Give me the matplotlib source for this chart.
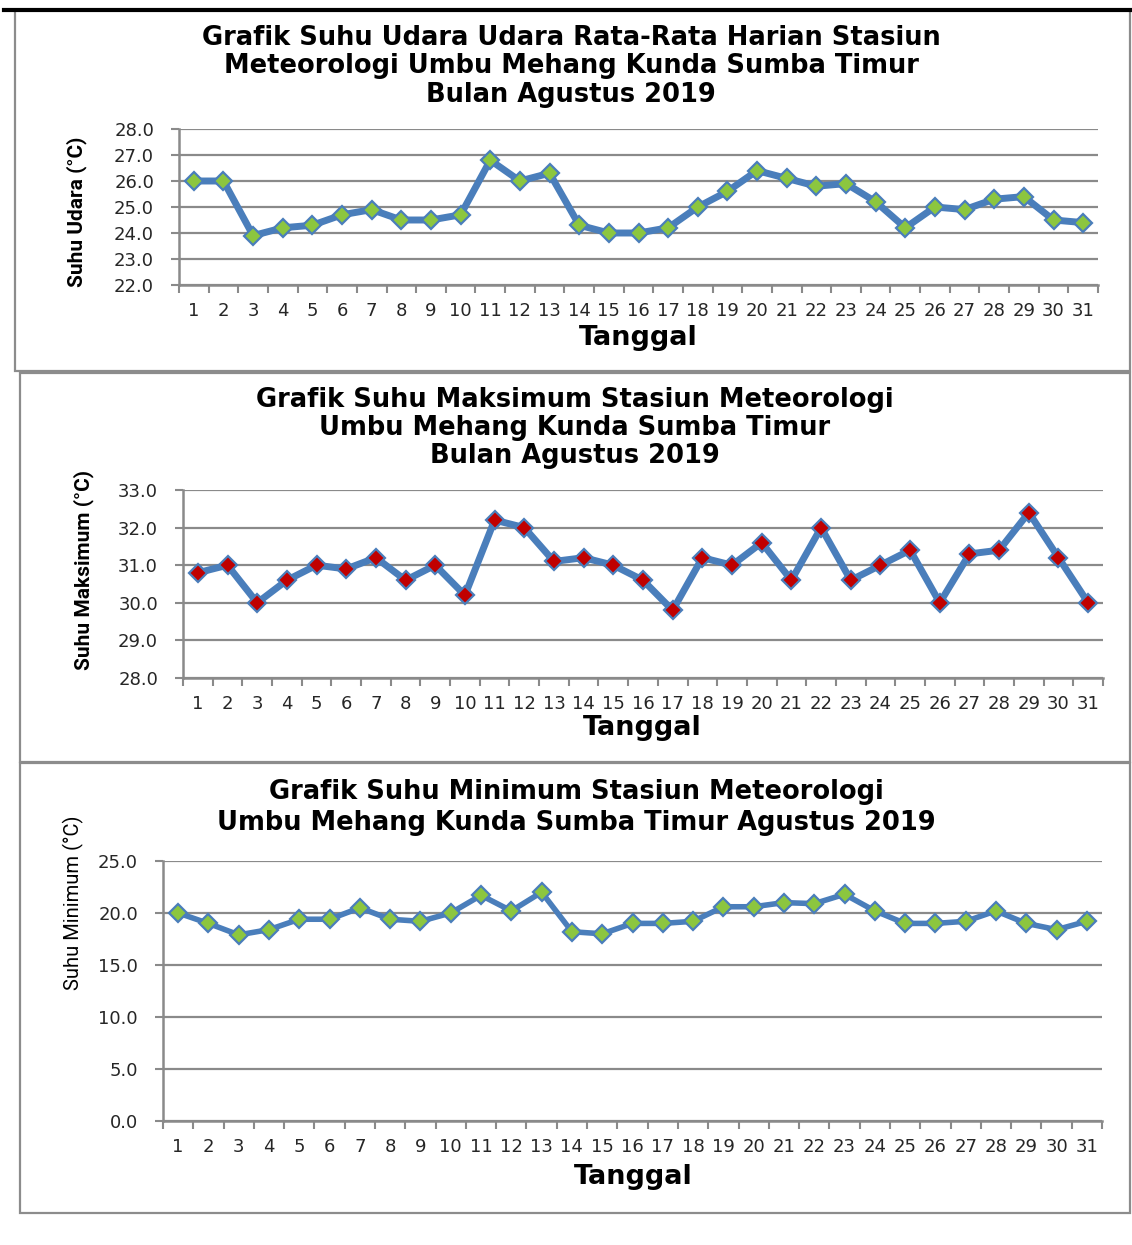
import matplotlib
matplotlib.use("Agg")
import matplotlib.pyplot as plt
from matplotlib.patches import Rectangle
from matplotlib.lines import Line2D

# ---------------- data ----------------
days = list(range(1, 32))
day_labels = [str(d) for d in days]

suhu_rata = [26.0, 26.0, 23.9, 24.2, 24.3, 24.7, 24.9, 24.5, 24.5, 24.7,
             26.8, 26.0, 26.3, 24.3, 24.0, 24.0, 24.2, 25.0, 25.6, 26.4,
             26.1, 25.8, 25.9, 25.2, 24.2, 25.0, 24.9, 25.3, 25.4, 24.5, 24.4]
suhu_max = [30.8, 31.0, 30.0, 30.6, 31.0, 30.9, 31.2, 30.6, 31.0, 30.2,
            32.2, 32.0, 31.1, 31.2, 31.0, 30.6, 29.8, 31.2, 31.0, 31.6,
            30.6, 32.0, 30.6, 31.0, 31.4, 30.0, 31.3, 31.4, 32.4, 31.2, 30.0]
suhu_min = [20.0, 19.0, 17.9, 18.4, 19.4, 19.4, 20.5, 19.4, 19.2, 20.0,
            21.7, 20.2, 22.0, 18.2, 18.0, 19.0, 19.0, 19.2, 20.6, 20.6,
            21.0, 20.9, 21.8, 20.2, 19.0, 19.0, 19.2, 20.2, 19.0, 18.4, 19.2]

title1 = ["Grafik Suhu Udara Udara Rata-Rata Harian Stasiun",
          "Meteorologi Umbu Mehang Kunda Sumba Timur",
          "Bulan Agustus 2019"]
title2 = ["Grafik Suhu Maksimum Stasiun Meteorologi",
          "Umbu Mehang Kunda Sumba Timur",
          "Bulan Agustus 2019"]
title3 = ["Grafik Suhu Minimum Stasiun Meteorologi",
          "Umbu Mehang Kunda Sumba Timur Agustus 2019"]
ylab1 = "Suhu Udara (°C)"
ylab2 = "Suhu Maksimum (°C)"
ylab3 = "Suhu Minimum (°C)"
xlab = "Tanggal"

# ---------------- style ----------------
W, H = 1132, 1245
LINE = "#4A7EBB"
GREEN = "#8CC63F"
RED = "#C00000"
GRID = "#8A8A8A"
TXT = "#262626"
narrow = ["Roboto", "DejaVu Sans"]
TFS = 18.5

fig = plt.figure(figsize=(W / 100, H / 100), dpi=100)


def fx(x):
    return x / W


def fy(y):
    return 1 - y / H


def ax_px(l, t, r, b):
    return fig.add_axes([fx(l), fy(b), (r - l) / W, (b - t) / H])


def panel(x0, y0, x1, y1):
    fig.patches.append(Rectangle((fx(x0), fy(y1)), (x1 - x0) / W, (y1 - y0) / H,
                                 transform=fig.transFigure, fill=False,
                                 edgecolor="#8C8C8C", lw=1.6))


def draw(ax, vals, ylo, yhi, step, face, lw, ms):
    ax.plot(days, vals, color=LINE, lw=lw, marker="D", ms=ms,
            mfc=face, mec=LINE, mew=1.6, zorder=3, clip_on=False)
    ax.set_xlim(0.5, 31.5)
    ax.set_ylim(ylo, yhi)
    yt = []
    v = ylo
    while v <= yhi + 1e-9:
        yt.append(round(v, 1))
        v += step
    ax.set_yticks(yt)
    ax.set_yticklabels([f"{t:.1f}" for t in yt], fontsize=13, color=TXT)
    ax.set_xticks([d + 0.5 for d in [0] + days])
    ax.set_xticklabels([])
    ax.set_xticks(days, minor=True)
    ax.set_xticklabels(day_labels, minor=True, fontsize=13, color=TXT)
    ax.tick_params(axis="x", which="major", length=6, width=1.5, color=GRID, direction="out")
    ax.tick_params(axis="x", which="minor", length=0, pad=12)
    ax.tick_params(axis="y", length=6, width=1.5, color=GRID, direction="out", pad=12)
    for s in ["top", "right"]:
        ax.spines[s].set_visible(False)
    for s in ["left", "bottom"]:
        ax.spines[s].set_color(GRID)
        ax.spines[s].set_linewidth(1.8)
    ax.yaxis.grid(True, color=GRID, lw=1.6)
    ax.set_axisbelow(True)


# top black rule
fig.lines.append(Line2D([fx(4), 1.0], [fy(10), fy(10)], color="black", lw=3,
                        transform=fig.transFigure))

# panel frames
panel(15, 10, 1130, 371)
panel(20, 373, 1130, 762)
panel(20, 763, 1130, 1213)

# ---- chart 1 ----
ax1 = ax_px(179, 129, 1098, 285)
draw(ax1, suhu_rata, 22.0, 28.0, 1.0, GREEN, 5, 9)
for y, t in zip([38, 66, 95], title1):
    fig.text(fx(571), fy(y), t, ha="center", va="center", fontsize=TFS,
             fontweight="bold", color="black")
fig.text(fx(638), fy(338), xlab, ha="center", va="center", fontsize=19.5,
         fontweight="bold", color="black")
fig.text(fx(77), fy(212), ylab1, ha="center", va="center", rotation=90,
         fontsize=15, fontweight="bold", family=narrow, color="black")

# ---- chart 2 ----
ax2 = ax_px(183, 490, 1103, 678)
draw(ax2, suhu_max, 28.0, 33.0, 1.0, RED, 5, 9)
for y, t in zip([400, 428, 456], title2):
    fig.text(fx(575), fy(y), t, ha="center", va="center", fontsize=TFS,
             fontweight="bold", color="black")
fig.text(fx(642), fy(728), xlab, ha="center", va="center", fontsize=19.5,
         fontweight="bold", color="black")
fig.text(fx(84), fy(570), ylab2, ha="center", va="center", rotation=90,
         fontsize=15, fontweight="bold", family=narrow, color="black")

# ---- chart 3 ----
ax3 = ax_px(163, 861, 1102, 1121)
draw(ax3, suhu_min, 0.0, 25.0, 5.0, GREEN, 4, 9)
for y, t in zip([792, 823], title3):
    fig.text(fx(576), fy(y), t, ha="center", va="center", fontsize=TFS,
             fontweight="bold", color="black")
fig.text(fx(633), fy(1177), xlab, ha="center", va="center", fontsize=19.5,
         fontweight="bold", color="black")
fig.text(fx(73), fy(903), ylab3, ha="center", va="center", rotation=90,
         fontsize=14.5, family=narrow, color="black")

fig.savefig("out.png", dpi=100)
